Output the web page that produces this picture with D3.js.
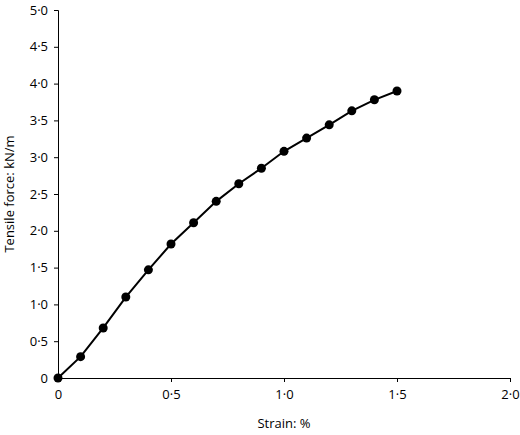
<!DOCTYPE html>
<html><head><meta charset="utf-8">
<script src="https://cdn.jsdelivr.net/npm/d3@7"></script>
<style>body{margin:0;background:#fff}text{font-family:"Open Sans",sans-serif;}</style>
</head><body><svg id="c" width="520" height="435"></svg>
<script>
const strain=[0,0.1,0.2,0.3,0.4,0.5,0.6,0.7,0.8,0.9,1.0,1.1,1.2,1.3,1.4,1.5];
const force=[0,0.29,0.68,1.10,1.47,1.82,2.11,2.40,2.64,2.85,3.08,3.26,3.44,3.63,3.78,3.90];
const xTicks=[0,0.5,1.0,1.5,2.0];
const yTicks=[0,0.5,1.0,1.5,2.0,2.5,3.0,3.5,4.0,4.5,5.0];
const fmt=v=>v===0?"0":v.toFixed(1).replace(".","·");
const svg=d3.select("#c");
const x=d3.scaleLinear().domain([0,2]).range([58,510]);
const y=d3.scaleLinear().domain([0,5]).range([378,10]);
svg.append("g").attr("transform","translate(0,378)")
 .call(d3.axisBottom(x).tickValues(xTicks).tickFormat(fmt).tickSize(4).tickPadding(8))
 .call(g=>{g.select(".domain").attr("stroke","#000");g.selectAll("text").attr("font-size",13).attr("font-family","Open Sans");});
svg.append("g").attr("transform","translate(58,0)")
 .call(d3.axisLeft(y).tickValues(yTicks).tickFormat(fmt).tickSize(4).tickPadding(6))
 .call(g=>{g.select(".domain").attr("stroke","#000");g.selectAll("text").attr("font-size",13).attr("font-family","Open Sans");});
svg.append("path").datum(strain.map((s,i)=>[s,force[i]]))
 .attr("fill","none").attr("stroke","#000").attr("stroke-width",2)
 .attr("d",d3.line().x(d=>x(d[0])).y(d=>y(d[1])));
svg.selectAll("circle").data(strain).join("circle")
 .attr("cx",d=>x(d)).attr("cy",(d,i)=>y(force[i])).attr("r",4.5).attr("fill","#000");
svg.append("text").attr("x",284).attr("y",428).attr("text-anchor","middle").attr("font-size",13).text("Strain: %");
svg.append("text").attr("transform","translate(14,194) rotate(-90)").attr("text-anchor","middle").attr("font-size",13).text("Tensile force: kN/m");
</script></body></html>
